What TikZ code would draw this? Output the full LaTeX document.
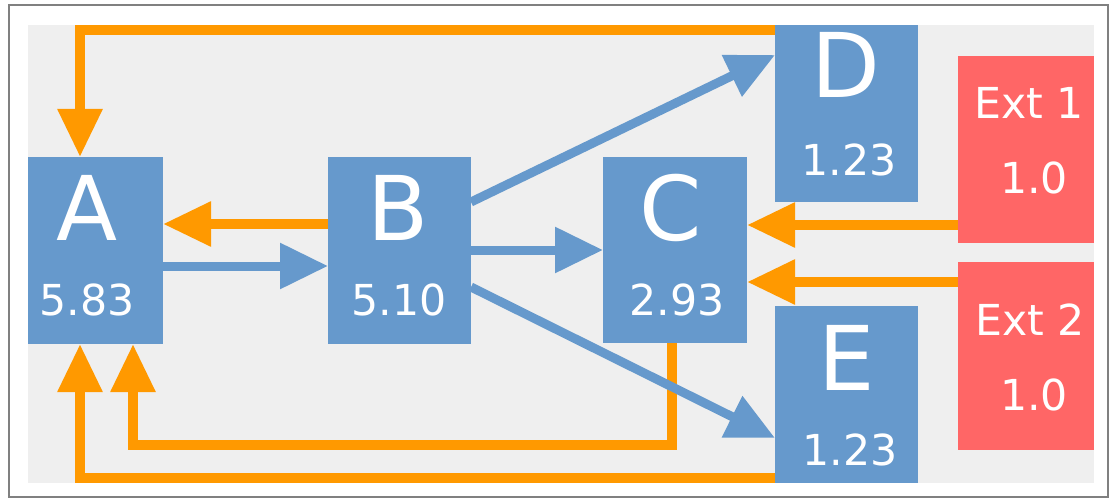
\documentclass[tikz,border=0pt]{standalone}
\usepackage{fontspec}
\usepackage{tikz}
\usepackage{xcolor}
\usetikzlibrary{arrows.meta,fit}
\setmainfont{DejaVu Sans}
\definecolor{boxblue}{RGB}{102,153,204}
\definecolor{extred}{RGB}{255,102,102}
\definecolor{flowor}{RGB}{255,153,0}
\definecolor{panelgray}{RGB}{239,239,239}
\definecolor{framegray}{RGB}{128,128,128}

\begin{document}
\begin{tikzpicture}[x=0.75pt,y=0.75pt,yscale=-1,xscale=1,
    box/.style={inner sep=0pt,outer sep=0pt,fill=boxblue},
    extbox/.style={inner sep=0pt,outer sep=0pt,fill=extred},
    boxname/.style={anchor=base,text=white,inner sep=0pt,font=\fontsize{67}{72}\selectfont},
    boxnum/.style={anchor=base,text=white,inner sep=0pt,font=\fontsize{32}{36}\selectfont},
    flow/.style={line width=6.75pt,draw=boxblue,-{Triangle[length=36pt,width=33pt]}},
    feedback/.style={line width=7.5pt,draw=flowor,-{Triangle[length=36pt,width=32pt]}}]
        %set diagram to the size of the screenshot
        \useasboundingbox (0,0) rectangle (1112,499);

        %Shape: Frame
        \draw [draw=framegray,fill=white,line width=1pt] (9,5) rectangle (1108,497);
        %Shape: Panel
        \fill [panelgray] (28,25) rectangle (1094,483);

        %Shape: Boxes
        \node [box,fit={(28,157) (163,344)}] (A) {};
        \node [box,fit={(328,157) (471,344)}] (B) {};
        \node [box,fit={(603,157) (747,343)}] (C) {};
        \node [box,fit={(775,25) (918,202)}] (D) {};
        \node [box,fit={(775,306) (918,483)}] (E) {};
        \node [extbox,fit={(958,56) (1094,243)}] (Ext1) {};
        \node [extbox,fit={(958,262) (1094,450)}] (Ext2) {};

        % Text Node
        \node [boxname] (A-name) at (87,240) {A};
        \node [boxnum] (A-num) at (87,315) {5.83};
        % Text Node
        \node [boxname] (B-name) at (398,240) {B};
        \node [boxnum] (B-num) at (399,315) {5.10};
        % Text Node
        \node [boxname] (C-name) at (671,240) {C};
        \node [boxnum] (C-num) at (677,315) {2.93};
        % Text Node
        \node [boxname] (D-name) at (846,98) {D};
        \node [boxnum] (D-num) at (849,175) {1.23};
        % Text Node
        \node [boxname] (E-name) at (847,390) {E};
        \node [boxnum] (E-num) at (850,465) {1.23};
        % Text Node
        \node [boxnum] (Ext1-name) at (1029,118) {Ext 1};
        \node [boxnum] (Ext1-num) at (1034,193) {1.0};
        % Text Node
        \node [boxnum] (Ext2-name) at (1030,335) {Ext 2};
        \node [boxnum] (Ext2-num) at (1034,410) {1.0};

        %Elbow corners
        \coordinate (topleft) at (80,30);
        \coordinate (botleft) at (80,478);
        \coordinate (innerleft) at (133,445);
        \coordinate (innerright) at (672,445);

        %Straight Lines: feedback
        \draw [feedback] (D.west |- topleft) -- (topleft) -- (topleft |- A.north);
        \draw [feedback] (B.west |- 0,224) -- (A.east |- 0,224);
        \draw [feedback] (Ext1.west |- 0,225) -- (C.east |- 0,225);
        \draw [feedback] (Ext2.west |- 0,282) -- (C.east |- 0,282);
        \draw [feedback] (C.south -| innerright) -- (innerright) -- (innerleft) -- (innerleft |- A.south);
        \draw [feedback] (E.west |- botleft) -- (botleft) -- (botleft |- A.south);

        %Straight Lines: flow
        \draw [flow] (A.east |- 0,266) -- (B.west |- 0,266);
        \draw [flow] (B.east |- 0,250) -- (C.west |- 0,250);
        \draw [flow] (B.east |- 0,202) -- (D.west |- 0,55);
        \draw [flow] (B.east |- 0,287) -- (E.west |- 0,438);
\end{tikzpicture}
\end{document}
